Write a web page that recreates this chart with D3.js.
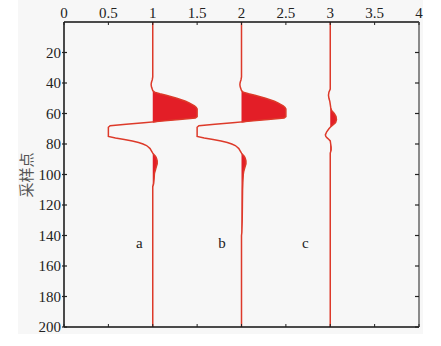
<!DOCTYPE html>
<html><head><meta charset="utf-8">
<script src="https://cdn.jsdelivr.net/npm/d3@7"></script>
<style>body{margin:0;background:#fff}svg{display:block}</style>
</head><body>
<script>
// ---- data ----
const xTicks = [0, 0.5, 1, 1.5, 2, 2.5, 3, 3.5, 4];
const xTickLabels = ["0", "0.5", "1", "1.5", "2", "2.5", "3", "3.5", "4"];
const yTicks = [20, 40, 60, 80, 100, 120, 140, 160, 180, 200];
const yLabel = "采样点";
const traceNames = ["a", "b", "c"];
const traceOffsets = [1, 2, 3];
const labelX = [0.85, 1.78, 2.72];
const labelSample = [148, 148, 148];

const samplesA = [0,36,38,39,40,41,42,43,44,45,46,47,48,49,50,51,52,53,54,55,56,57,62,63,64,65,66,67,68,69,75,76,77,78,79,80,81,82,83,84,85,86,87,88,89,90,91,93,94,95,96,97,98,99,100,103,106,107,108,200];
const ampA = [0,0,-0.006,-0.012,-0.016,-0.018,-0.016,-0.012,-0.006,0,0.02,0.08,0.15,0.21,0.27,0.32,0.37,0.41,0.44,0.47,0.49,0.5,0.5,0.48,0.3,0.1,-0.1,-0.3,-0.48,-0.5,-0.5,-0.42,-0.32,-0.23,-0.16,-0.11,-0.07,-0.05,-0.03,-0.02,-0.01,0,0.015,0.03,0.04,0.045,0.05,0.05,0.045,0.04,0.035,0.03,0.025,0.02,0.018,0.015,0.01,0.005,0,0];

const samplesB = [0,36,38,39,40,41,42,43,44,45,46,47,48,49,50,51,52,53,54,55,56,57,62,63,64,65,66,67,68,69,75,76,77,78,79,80,81,82,83,84,85,86,87,88,89,90,91,93,94,96,98,100,105,110,120,130,138,140,200];
const ampB = [0,0,-0.006,-0.012,-0.016,-0.018,-0.016,-0.012,-0.006,0,0.02,0.08,0.15,0.21,0.27,0.32,0.37,0.41,0.44,0.47,0.49,0.5,0.5,0.48,0.3,0.1,-0.1,-0.3,-0.48,-0.5,-0.5,-0.42,-0.32,-0.23,-0.16,-0.11,-0.07,-0.05,-0.03,-0.02,-0.01,0,0.015,0.03,0.04,0.045,0.05,0.05,0.045,0.035,0.025,0.02,0.015,0.012,0.01,0.008,0.004,0,0];

const samplesC = [0,44,46,48,50,52,54,56,58,60,62,64,66,67,68,69,70,72,74,75,76,77,78,80,82,84,86,200];
const ampC = [0,0,-0.015,-0.02,-0.015,-0.005,0,0.005,0.015,0.045,0.065,0.07,0.06,0.04,0.02,0,-0.015,-0.04,-0.055,-0.05,-0.035,-0.015,0,0.005,0.01,0.01,0,0];

const traces = [
  {s: samplesA, a: ampA},
  {s: samplesB, a: ampB},
  {s: samplesC, a: ampC}
];

// ---- drawing ----
const W = 441, H = 346;
const svg = d3.select("body").append("svg").attr("width", W).attr("height", H);
svg.append("rect").attr("x", 18).attr("y", 0).attr("width", 405).attr("height", 334).attr("fill", "#f7f7f7");

const x = d3.scaleLinear().domain([0, 4]).range([64, 419]);
const y = d3.scaleLinear().domain([0, 200]).range([22, 327]);

const lineColor = "#dd3a2a";
const fillColor = "#e31e27";

traces.forEach((t, i) => {
  const off = traceOffsets[i];
  const pts = t.s.map((s, j) => ({s, v: t.a[j]}));
  const area = d3.area()
    .y(d => y(d.s))
    .x0(() => x(off))
    .x1(d => x(off + Math.max(0, d.v)));
  svg.append("path").datum(pts).attr("d", area).attr("fill", fillColor);
  const line = d3.line().x(d => x(off + d.v)).y(d => y(d.s));
  svg.append("path").datum(pts).attr("d", line)
    .attr("fill", "none").attr("stroke", lineColor).attr("stroke-width", 1.5);
});

// frame
const g = svg.append("g");
g.append("line").attr("x1", x(0)).attr("x2", x(4)).attr("y1", y(0)).attr("y2", y(0)).attr("stroke", "#111").attr("stroke-width", 1.5);
g.append("line").attr("x1", x(0)).attr("x2", x(4)).attr("y1", y(200)).attr("y2", y(200)).attr("stroke", "#111").attr("stroke-width", 1.5);
g.append("line").attr("x1", x(0)).attr("x2", x(0)).attr("y1", y(0)).attr("y2", y(200)).attr("stroke", "#111").attr("stroke-width", 1.5);
g.append("line").attr("x1", x(4)).attr("x2", x(4)).attr("y1", y(0)).attr("y2", y(200)).attr("stroke", "#666").attr("stroke-width", 1.5);

const font = "'Liberation Serif', 'DejaVu Serif', serif";

// top axis ticks + labels
xTicks.forEach((v, i) => {
  g.append("line").attr("x1", x(v)).attr("x2", x(v)).attr("y1", y(0)).attr("y2", y(0) + 3).attr("stroke", "#222");
  g.append("line").attr("x1", x(v)).attr("x2", x(v)).attr("y1", y(200)).attr("y2", y(200) - 3).attr("stroke", "#222");
  g.append("text").attr("x", x(v)).attr("y", 18).attr("text-anchor", "middle")
    .attr("font-family", font).attr("font-size", 15).attr("fill", "#222").text(xTickLabels[i]);
});

// left/right ticks + labels
yTicks.forEach(v => {
  g.append("line").attr("x1", x(0) - 2).attr("x2", x(0) + 3).attr("y1", y(v)).attr("y2", y(v)).attr("stroke", "#222").attr("stroke-width", 1.2);
  g.append("line").attr("x1", x(4)).attr("x2", x(4) - 4).attr("y1", y(v)).attr("y2", y(v)).attr("stroke", "#222").attr("stroke-width", 1.2);
  g.append("text").attr("x", 61).attr("y", y(v)).attr("dy", "0.35em").attr("text-anchor", "end")
    .attr("font-family", font).attr("font-size", 15).attr("fill", "#222").text(v);
});

// y label
svg.append("text").attr("transform", `translate(32,175) rotate(-90)`).attr("text-anchor", "middle")
  .attr("font-family", "'Noto Sans CJK SC', sans-serif").attr("font-size", 15).attr("fill", "#555").text(yLabel);

// trace labels
traceNames.forEach((n, i) => {
  svg.append("text").attr("x", x(labelX[i])).attr("y", y(labelSample[i])).attr("text-anchor", "middle")
    .attr("font-family", font).attr("font-size", 15).attr("fill", "#222").text(n);
});
</script>
</body></html>
